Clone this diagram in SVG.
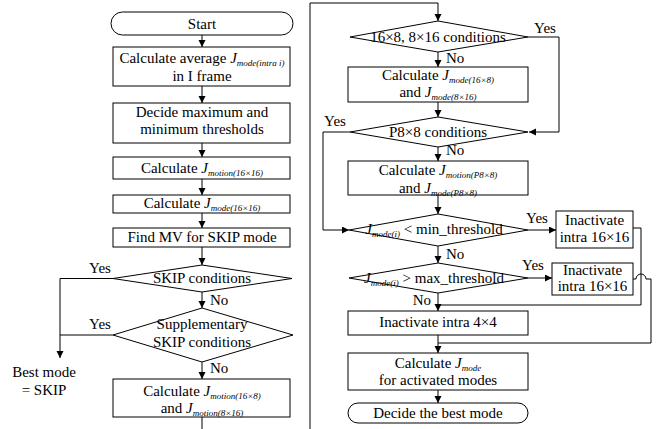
<svg xmlns="http://www.w3.org/2000/svg" width="659" height="429" viewBox="0 0 659 429">
<defs>
<marker id="arr" markerUnits="userSpaceOnUse" markerWidth="8" markerHeight="8" refX="7" refY="3.5" orient="auto">
<path d="M0,0 L7,3.5 L0,7 z" fill="#000"/>
</marker>
<style>
.s{fill:#fff;stroke:#000;stroke-width:1}
.c{fill:none;stroke:#000;stroke-width:1}
.a{marker-end:url(#arr)}
text{font-family:"Liberation Serif","Times New Roman",serif;font-size:15px;fill:#000}
.m{text-anchor:middle}
.e{text-anchor:end}
.j{font-style:italic}
.sub{font-style:italic;font-size:9px}
</style>
</defs>
<rect width="659" height="429" fill="#fff"/>
<g id="connectors">
<line class="c a" x1="202" y1="35" x2="202" y2="47"/>
<line class="c a" x1="202" y1="86" x2="202" y2="103"/>
<line class="c a" x1="202" y1="143" x2="202" y2="157"/>
<line class="c a" x1="202" y1="179" x2="202" y2="195"/>
<line class="c a" x1="202" y1="213" x2="202" y2="228"/>
<line class="c a" x1="202" y1="247" x2="202" y2="265"/>
<line class="c a" x1="202" y1="292" x2="202" y2="308"/>
<line class="c a" x1="202" y1="362" x2="202" y2="379"/>
<line class="c" x1="202" y1="417" x2="202" y2="429"/>
<polyline class="c a" points="113,278.5 60,278.5 60,358"/>
<line class="c" x1="113" y1="335" x2="60" y2="335"/>
<text x="210" y="305">No</text>
<text x="210" y="373">No</text>
<text class="m" x="100" y="273">Yes</text>
<text class="m" x="100" y="329">Yes</text>
<polyline class="c a" points="310,429 310,3 438,3 438,21"/>
<polyline class="c a" points="528,37 559,37 559,132 529,132"/>
<text class="m" x="545" y="33">Yes</text>
<line class="c a" x1="438" y1="52" x2="438" y2="67"/>
<text x="446" y="63">No</text>
<line class="c a" x1="438" y1="102" x2="438" y2="117"/>
<polyline class="c a" points="350,132 323,132 323,230 349,230"/>
<text class="m" x="335" y="126">Yes</text>
<line class="c a" x1="438" y1="147" x2="438" y2="161"/>
<text x="446" y="155">No</text>
<line class="c a" x1="438" y1="195" x2="438" y2="214"/>
<line class="c a" x1="528" y1="230" x2="556" y2="230"/>
<text class="m" x="537" y="223">Yes</text>
<line class="c a" x1="438" y1="246" x2="438" y2="263"/>
<text x="446" y="259">No</text>
<line class="c a" x1="528" y1="278" x2="552" y2="278"/>
<text class="m" x="533" y="270">Yes</text>
<line class="c a" x1="438" y1="293" x2="438" y2="311"/>
<text class="e" x="431" y="305">No</text>
<polyline class="c" points="633,228 641,228 641,305 438,305"/>
<path class="c" d="M633,279 L636,279 A5,5 0 0 1 646,279 L651,279 L651,343 L438,343"/>
<line class="c a" x1="438" y1="335" x2="438" y2="353"/>
<line class="c a" x1="438" y1="390" x2="438" y2="403"/>
</g>
<g id="start">
<rect class="s" x="111" y="12" width="182" height="23" rx="11.5"/>
<text class="m" x="202" y="28.5">Start</text>
</g>
<g id="avg">
<rect class="s" x="113" y="47" width="177" height="39"/>
<text class="m" x="202" y="63">Calculate average <tspan class="j">J</tspan><tspan class="sub" dy="2.5">mode(intra i)</tspan></text>
<text class="m" x="202" y="81">in I frame</text>
</g>
<g id="thresholds">
<rect class="s" x="113" y="103" width="177" height="40"/>
<text class="m" x="202" y="117">Decide maximum and</text>
<text class="m" x="202" y="134">minimum thresholds</text>
</g>
<g id="motion16">
<rect class="s" x="113" y="157" width="177" height="22"/>
<text class="m" x="202" y="173">Calculate <tspan class="j">J</tspan><tspan class="sub" dy="2.5">motion(16×16)</tspan></text>
</g>
<g id="mode16">
<rect class="s" x="113" y="195" width="177" height="18"/>
<text class="m" x="202" y="208">Calculate <tspan class="j">J</tspan><tspan class="sub" dy="2.5">mode(16×16)</tspan></text>
</g>
<g id="findmv">
<rect class="s" x="113" y="228" width="177" height="19"/>
<text class="m" x="202" y="242">Find MV for SKIP mode</text>
</g>
<g id="skipcond">
<polygon class="s" points="113,278.5 202,265 292,278.5 202,292"/>
<text class="m" x="202" y="283">SKIP conditions</text>
</g>
<g id="suppskip">
<polygon class="s" points="113,335 202,308 293,335 202,362"/>
<text class="m" x="202" y="329">Supplementary</text>
<text class="m" x="202" y="347">SKIP conditions</text>
</g>
<g id="motion168">
<rect class="s" x="113" y="379" width="177" height="38"/>
<text class="m" x="202" y="396">Calculate <tspan class="j">J</tspan><tspan class="sub" dy="2.5">motion(16×8)</tspan></text>
<text class="m" x="202" y="413">and <tspan class="j">J</tspan><tspan class="sub" dy="2.5">motion(8×16)</tspan></text>
</g>
<g id="bestskip">
<text class="m" x="44" y="377">Best mode</text>
<text class="m" x="44" y="395">= SKIP</text>
</g>
<g id="cond168">
<polygon class="s" points="350,37 438,21 528,37 438,52"/>
<text class="m" x="438" y="42">16×8, 8×16 conditions</text>
</g>
<g id="mode168">
<rect class="s" x="348" y="67" width="180" height="35"/>
<text class="m" x="438" y="80">Calculate <tspan class="j">J</tspan><tspan class="sub" dy="2.5">mode(16×8)</tspan></text>
<text class="m" x="438" y="97">and <tspan class="j">J</tspan><tspan class="sub" dy="2.5">mode(8×16)</tspan></text>
</g>
<g id="condp88">
<polygon class="s" points="350,132 438,117 528,132 438,147"/>
<text class="m" x="438" y="137">P8×8 conditions</text>
</g>
<g id="motionp88">
<rect class="s" x="348" y="161" width="180" height="34"/>
<text class="m" x="438" y="175">Calculate <tspan class="j">J</tspan><tspan class="sub" dy="2.5">motion(P8×8)</tspan></text>
<text class="m" x="438" y="193">and <tspan class="j">J</tspan><tspan class="sub" dy="2.5">mode(P8×8)</tspan></text>
</g>
<g id="minthr">
<polygon class="s" points="349,230 438,214 528,230 438,246"/>
<text class="m" x="434" y="234"><tspan class="j">J</tspan><tspan class="sub" dy="2.5">mode(i)</tspan><tspan dy="-2.5"> &lt; min_threshold</tspan></text>
</g>
<g id="inact1">
<rect class="s" x="556" y="211" width="77" height="37"/>
<text class="m" x="594.5" y="225">Inactivate</text>
<text class="m" x="594.5" y="242">intra 16×16</text>
</g>
<g id="maxthr">
<polygon class="s" points="349,278 438,263 528,278 438,293"/>
<text class="m" x="434" y="283"><tspan class="j">J</tspan><tspan class="sub" dy="2.5">mode(i)</tspan><tspan dy="-2.5"> &gt; max_threshold</tspan></text>
</g>
<g id="inact2">
<rect class="s" x="552" y="263" width="81" height="32"/>
<text class="m" x="592.5" y="275">Inactivate</text>
<text class="m" x="592.5" y="291">intra 16×16</text>
</g>
<g id="inact44">
<rect class="s" x="348" y="311" width="180" height="24"/>
<text class="m" x="438" y="327">Inactivate intra 4×4</text>
</g>
<g id="modeall">
<rect class="s" x="348" y="353" width="180" height="37"/>
<text class="m" x="438" y="368">Calculate <tspan class="j">J</tspan><tspan class="sub" dy="2.5">mode</tspan></text>
<text class="m" x="438" y="385">for activated modes</text>
</g>
<g id="end">
<rect class="s" x="348" y="403" width="180" height="20" rx="10"/>
<text class="m" x="438" y="418">Decide the best mode</text>
</g>
</svg>
